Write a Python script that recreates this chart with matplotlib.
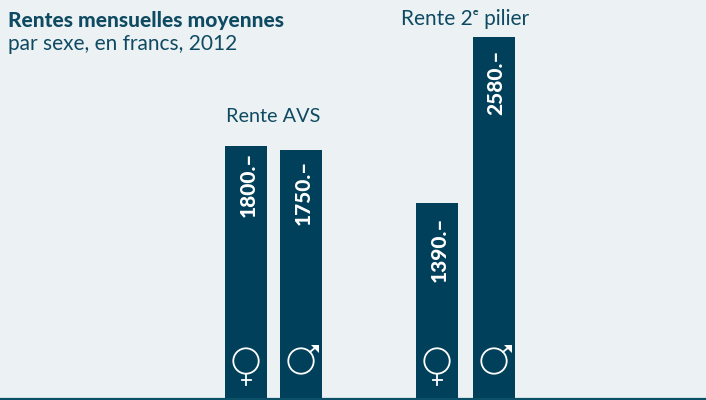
import matplotlib
matplotlib.use('Agg')
import matplotlib.pyplot as plt
from matplotlib.patches import Circle

# data
sexes = ['f', 'm', 'f', 'm']
values = [1800, 1770, 1390, 2580]
labels = ['1800.–', '1750.–', '1390.–', '2580.–']
positions = [246, 301, 437, 494]
# top of each rotated label, in pixels from the top of the figure
label_tops = [152, 160, 217, 50]

bg = '#ecf2f3'
dark = '#00405a'
text_col = '#0f4a63'

plt.rcParams['font.family'] = ['Lato', 'DejaVu Sans']

fig = plt.figure(figsize=(7.06, 4.0), dpi=100, facecolor=bg)
ax = fig.add_axes([0, 0, 1, 1])
ax.set_facecolor(bg)
ax.set_xlim(0, 706)
# 0.14 px per franc, baseline 2 px above the bottom edge
ax.set_ylim(-2 / 0.14, 398 / 0.14)
ax.axis('off')

ax.bar(positions, values, width=42, color=dark, linewidth=0)
ax.axhline(-1 / 0.14, color='#0c5068', linewidth=1.6)

# labels and sex symbols on a pixel overlay
over = fig.add_axes([0, 0, 1, 1])
over.set_xlim(0, 706)
over.set_ylim(400, 0)
over.axis('off')
over.patch.set_alpha(0)

for x, top, lab in zip(positions, label_tops, labels):
    over.text(x + 2, top, lab, rotation=90, ha='center', va='top',
              color='white', fontsize=15, fontweight=900)

for x, s in zip(positions, sexes):
    if s == 'f':
        over.add_patch(Circle((x, 361), 12.7, fill=False, ec='white', lw=1.3))
        over.plot([x, x], [374, 384.5], color='white', lw=1.3)
        over.plot([x - 4.5, x + 4.5], [380, 380], color='white', lw=1.3)
    else:
        over.add_patch(Circle((x, 361), 12.7, fill=False, ec='white', lw=1.3))
        over.plot([x + 9, x + 15], [352, 347], color='white', lw=1.3)
        over.fill([x + 10, x + 17.5, x + 17.5], [345, 345, 352.5], color='white', lw=0)

fig.text(8 / 706, 1 - 20 / 400, 'Rentes mensuelles moyennes', fontsize=15, fontweight=900,
         color=text_col, va='center')
fig.text(8 / 706, 1 - 44 / 400, 'par sexe, en francs, 2012', fontsize=15,
         color=text_col, va='center')
fig.text(273.5 / 706, 1 - 117 / 400, 'Rente AVS', fontsize=14.3, color=text_col, ha='center', va='center')
fig.text(465 / 706, 1 - 19 / 400, 'Rente 2ᵉ pilier', fontsize=15, color=text_col, ha='center', va='center')

fig.savefig('out.png', dpi=100, facecolor=bg)
